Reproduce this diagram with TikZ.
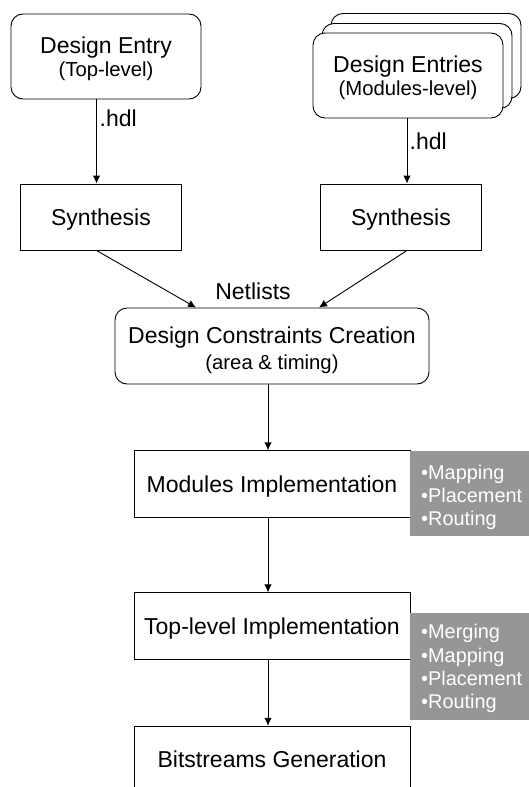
\documentclass[tikz,border=0pt]{standalone}
\usepackage{fontspec}
\setmainfont{Liberation Sans}
\usetikzlibrary{arrows.meta}
\definecolor{gris}{RGB}{150,150,150}
\newcommand{\grand}{\fontsize{23}{27}\selectfont}
\newcommand{\petit}{\fontsize{20.3}{22}\selectfont}
\newcommand{\liste}{\fontsize{19.9}{23.3}\selectfont}
\begin{document}
\begin{tikzpicture}[x=1pt,y=-1pt]
% Styles
\tikzstyle{cadre}=[draw,line width=0.9pt,inner sep=0pt,align=center,font=\grand,text depth=0pt]
\tikzstyle{arrondi}=[cadre,rounded corners=12pt,fill=white,minimum width=190pt,minimum height=85pt,
  text height=40pt]
\tikzstyle{synthese}=[cadre,minimum width=161pt,minimum height=66pt]
\tikzstyle{etape}=[cadre,minimum width=276pt,minimum height=66.5pt]
\tikzstyle{fleche}=[-{Latex[length=8pt,width=7.5pt]},line width=0.9pt]
\tikzstyle{etiquette}=[inner sep=0pt,font=\grand]
\tikzstyle{grise}=[fill=gris,text=white,anchor=north west,align=left,font=\liste,
  inner xsep=11pt,inner ysep=0pt,text width=100pt,text height=0pt]
% Cadre de l'image
\useasboundingbox (0,0) rectangle (529,787);
% Colonnes des fleches
\coordinate (colG) at (96.5,0);
\coordinate (colD) at (407,0);
\coordinate (colC) at (268,0);
% Entrees
\node[arrondi] (entreeHaut) at (106,56.5) {Design Entry\\[-3.6pt]\petit (Top-level)};
\node[arrondi] (entreesMod3) at (426,56) {};
\node[arrondi] (entreesMod2) at (417,66) {};
\node[arrondi,text height=39pt] (entreesMod) at (408,75.5)
  {Design Entries\\[-4.7pt]\petit (Modules-level)};
% Syntheses
\node[synthese] (synthHaut) at (101,217) {Synthesis};
\node[synthese] (synthMod) at (401,217) {Synthesis};
\node[etiquette,anchor=west] (hdlHaut) at (99.5,118) {.hdl};
\node[etiquette,anchor=west] (hdlMod) at (409.5,141) {.hdl};
% Contraintes
\node[cadre,rounded corners=12pt,minimum width=314pt,minimum height=76pt,text height=46.6pt]
  (contraintes) at (272,346) {Design Constraints Creation\\[-1pt]\petit (area \& timing)};
\node[etiquette] (netlists) at (253,291) {Netlists};
% Implementation
\node[etape] (implMod) at (272,484) {Modules Implementation};
\node[etape] (implHaut) at (272,626) {Top-level Implementation};
\node[etape] (bitstreams) at (272,759.5) {Bitstreams Generation};
\node[grise,minimum height=85pt,text depth=29.2pt] (listeMod) at (410,451)
  {\textbullet Mapping\\\textbullet Placement\\\textbullet Routing};
\node[grise,minimum height=107.5pt,text depth=55pt] (listeHaut) at (410,612.5)
  {\textbullet Merging\\\textbullet Mapping\\\textbullet Placement\\\textbullet Routing};
% Fleches
\draw[fleche] (entreeHaut.south -| colG) -- (synthHaut.north -| colG);
\draw[fleche] (entreesMod.south -| colD) -- (synthMod.north -| colD);
\draw[fleche] (synthHaut.south -| colG) -- ([xshift=-76pt]contraintes.north);
\draw[fleche] (synthMod.south -| colD) -- ([xshift=47pt]contraintes.north);
\draw[fleche] (contraintes.south -| colC) -- (implMod.north -| colC);
\draw[fleche] (implMod.south -| colC) -- (implHaut.north -| colC);
\draw[fleche] (implHaut.south -| colC) -- (bitstreams.north -| colC);
\end{tikzpicture}
\end{document}
